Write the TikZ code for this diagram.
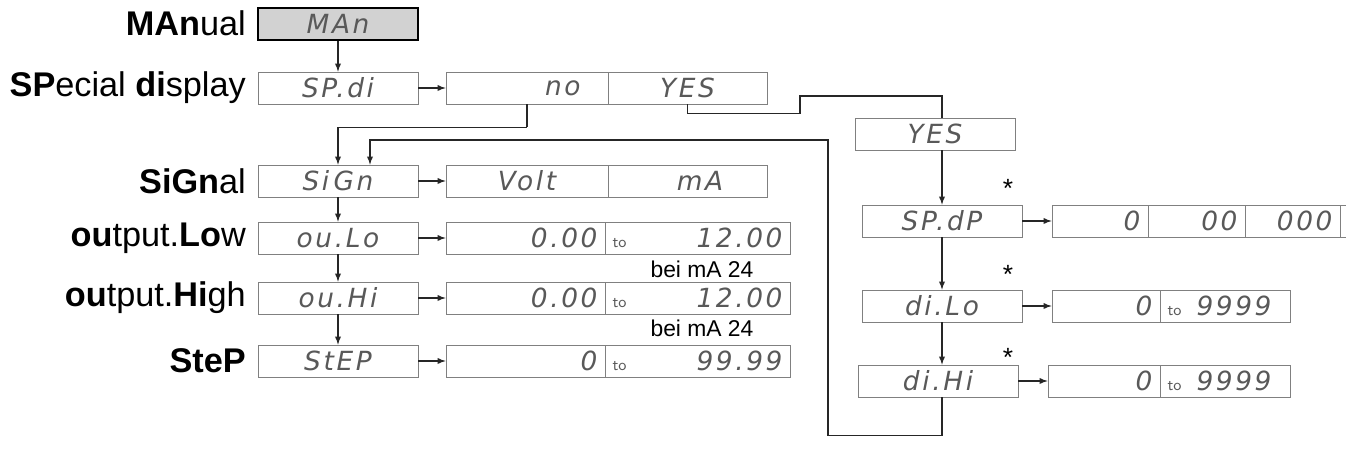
\documentclass[tikz,border=0pt]{standalone}
\usepackage{fontspec}
\setmainfont{Liberation Sans}
\newfontfamily\segfont[LetterSpace=10]{DejaVu Sans}
\usetikzlibrary{positioning}
\tikzset{
  lbl/.style={anchor=east, font=\fontsize{19.5}{22}\selectfont},
  disp/.style={draw=gray, minimum width=3.2cm, minimum height=0.64cm, inner sep=0pt,
    font=\segfont\fontsize{15}{17}\selectfont\itshape, text=black!65},
  cell/.style={disp, minimum width=0pt, inner xsep=0.15cm, text width=#1},
  arr/.style={->, >=latex, black!85, semithick},
  con/.style={black!85, semithick},
  note/.style={font=\fontsize{13}{15}\selectfont},
  star/.style={font=\fontsize{15}{17}\selectfont}
}
\newcommand{\tosmall}{{\fontsize{9}{10}\selectfont\upshape\textsf{to}}}
\begin{document}
\begin{tikzpicture}[x=0.02cm, y=-0.02cm]
    % page frame
    \clip (0,0) rectangle (1346,465);
    \fill[white] (0,0) rectangle (1346,465);

    % parameter names
    \node[lbl] (lman) at (252,23) {\textbf{MAn}ual};
    \node[lbl] (lspdi) at (252,88) {\textbf{SP}ecial \textbf{di}splay};
    \node[lbl] (lsign) at (252,181) {\textbf{SiGn}al};
    \node[lbl] (loulo) at (252,238) {\textbf{ou}tput.\textbf{Lo}w};
    \node[lbl] (louhi) at (252,298) {\textbf{ou}tput.\textbf{Hi}gh};
    \node[lbl] (lstep) at (252,361) {\textbf{SteP}};

    % left column
    \node[disp, draw=black, thick, fill=gray!35] (man) at (338,24) {MAn};
    \node[disp] (spdi) at (338,88) {SP.di};
    \node[disp] (sign) at (338,181) {Si\,Gn};
    \node[disp] (oulo) at (338,238) {ou.Lo};
    \node[disp] (ouhi) at (338,298) {ou.Hi};
    \node[disp] (step) at (338,361) {StEP};

    % choices
    \node[cell=2.94cm, align=right] (no) at (527,88) {no\hspace*{0.4cm}};
    \node[cell=2.88cm, align=center] (yes) at (687.5,88) {YES};
    \node[cell=2.94cm, align=center] (volt) at (527,181) {Volt};
    \node[cell=2.88cm, align=center] (mA) at (687.5,181) {\hspace*{0.5cm}mA};
    \node[cell=2.88cm, align=right] (loa) at (525.5,238) {0.00};
    \node[cell=3.4cm, align=left] (lob) at (697.5,238) {\tosmall\hfill 12.00};
    \node[cell=2.88cm, align=right] (hia) at (525.5,298) {0.00};
    \node[cell=3.4cm, align=left] (hib) at (697.5,298) {\tosmall\hfill 12.00};
    \node[cell=2.88cm, align=right] (sta) at (525.5,361) {0};
    \node[cell=3.4cm, align=left] (stb) at (697.5,361) {\tosmall\hfill 99.99};
    \node[note] (bei1) at (702,269) {bei mA 24};
    \node[note] (bei2) at (702,328) {bei mA 24};

    % special display branch
    \node[disp] (ryes) at (935,134) {YES};
    \node[disp] (spdp) at (942,221) {SP.dP};
    \node[disp] (dilo) at (942,306) {di.Lo};
    \node[disp] (dihi) at (938,381) {di.Hi};
    \node[cell=1.62cm, align=right] (dp0) at (1100,221) {0};
    \node[cell=1.64cm, align=right] (dp1) at (1196.5,221) {00};
    \node[cell=1.6cm, align=right] (dp2) at (1292.5,221) {000};
    \node[cell=0.3cm] (dp3) at (1355,221) {};
    \node[cell=1.86cm, align=right] (loval) at (1106,306) {0};
    \node[cell=2.3cm, align=left] (lotop) at (1225,306) {\tosmall\hspace{0.3cm}9999};
    \node[cell=1.94cm, align=right] (hival) at (1104,381) {0};
    \node[cell=2.3cm, align=left] (hitop) at (1225,381) {\tosmall\hspace{0.3cm}9999};
    \node[star] (s1) at (1008,188) {*};
    \node[star] (s2) at (1008,274) {*};
    \node[star] (s3) at (1008,357) {*};

    % connectors
    \draw[arr] (man) -- (spdi);
    \draw[arr] (spdi) -- (no);
    \draw[arr] (sign) -- (volt);
    \draw[arr] (oulo) -- (loa);
    \draw[arr] (ouhi) -- (hia);
    \draw[arr] (step) -- (sta);
    \draw[arr] (sign) -- (oulo);
    \draw[arr] (oulo) -- (ouhi);
    \draw[arr] (ouhi) -- (step);
    \draw[con] (no.south) -- ++(0,23) coordinate (nodown);
    \draw[arr] (nodown) -| (sign.north);
    \coordinate (back) at (828,140);
    \draw[arr] (dihi.south -| spdp) -- ++(0,38) -| (back) -| ([xshift=0.64cm]sign.north);
    \coordinate (jog) at (800,96);
    \draw[con] (yes.south) -- ++(0,9) -| (jog) -| (ryes.north -| spdp);
    \draw[arr] (ryes.south -| spdp) -- (spdp);
    \draw[arr] (spdp) -- (dilo);
    \draw[arr] (dilo) -- (dilo |- dihi.north);
    \draw[arr] (spdp) -- (dp0);
    \draw[arr] (dilo) -- (loval);
    \draw[arr] (dihi) -- (hival);
\end{tikzpicture}
\end{document}
